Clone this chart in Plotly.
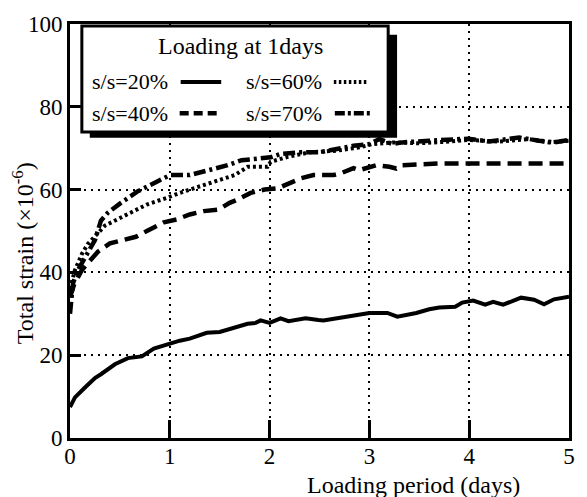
import plotly.graph_objects as go

# ---- data ----
x20 = [0, 0.05, 0.15, 0.25, 0.31, 0.45, 0.58, 0.72, 0.84, 1.0, 1.1, 1.2, 1.37, 1.5, 1.63, 1.78, 1.86, 1.91, 2.0,
       2.11, 2.19, 2.36, 2.49, 2.54, 2.8, 3.0, 3.18, 3.28, 3.47, 3.6, 3.7, 3.86, 3.93, 4.04, 4.16, 4.24, 4.34,
       4.52, 4.65, 4.75, 4.85, 5.0]
y20 = [7.5, 9.8, 12.2, 14.5, 15.4, 17.8, 19.3, 19.7, 21.6, 22.8, 23.5, 24.0, 25.4, 25.6, 26.5, 27.6, 27.8, 28.4, 27.8,
       28.9, 28.2, 28.9, 28.5, 28.4, 29.4, 30.2, 30.2, 29.3, 30.2, 31.1, 31.5, 31.7, 32.7, 33.2, 32.2, 32.9, 32.2,
       33.9, 33.4, 32.3, 33.5, 34.1]

x40 = [0, 0.04, 0.12, 0.28, 0.4, 0.51, 0.66, 0.77, 0.94, 1.07, 1.2, 1.34, 1.49, 1.6, 1.68, 1.81, 1.95, 2.08, 2.21,
       2.31, 2.44, 2.64, 2.71, 2.84, 2.9, 3.07, 3.2, 3.27, 3.33, 3.43, 3.7, 4.0, 4.26, 4.6, 5.0]
y40 = [34, 37, 40.6, 45, 47, 47.7, 48.6, 50, 52.1, 52.8, 54, 54.8, 55.2, 56.8, 57.6, 59.2, 60, 60.3, 61.5,
       62.7, 63.5, 63.5, 63.9, 65.2, 64.7, 65.9, 65.5, 65.1, 65.9, 66, 66.3, 66.3, 66.3, 66.3, 66.3]

x60 = [0, 0.05, 0.12, 0.18, 0.35, 0.54, 0.77, 0.97, 1.1, 1.34, 1.5, 1.65, 1.78, 1.98, 2.01, 2.18, 2.4, 2.67, 2.9,
       3.03, 3.23, 3.5, 3.8, 4.0, 4.3, 4.6, 4.8, 5.0]
y60 = [36, 40.6, 44.5, 46.9, 51.3, 53.6, 56.4, 58, 59.2, 61.1, 62.3, 63.5, 65.5, 65.5, 66.7, 67.9, 69, 69.4, 70.2,
       71, 71.4, 71.2, 71.6, 72, 71.6, 72.2, 71.4, 71.8]

x70 = [0, 0.03, 0.08, 0.25, 0.31, 0.38, 0.51, 0.68, 0.87, 1.0, 1.2, 1.47, 1.58, 1.72, 1.88, 2.01, 2.11, 2.31, 2.5,
       2.67, 2.84, 3.0, 3.1, 3.23, 3.33, 3.6, 3.8, 3.99, 4.2, 4.5, 4.7, 4.85, 5.0]
y70 = [30, 37.4, 40.6, 47.8, 52.5, 54.4, 56.8, 59.6, 61.9, 63.5, 63.5, 65.1, 65.9, 67.1, 67.5, 67.8, 68.6, 69, 69,
       69.8, 70.6, 71, 72.2, 71, 71.4, 71.8, 72.0, 72.3, 71.6, 72.6, 71.8, 71.4, 72.0]

series_names = ["s/s=20%", "s/s=40%", "s/s=60%", "s/s=70%"]
legend_title = "Loading at 1days"
x_ticks = [0, 1, 2, 3, 4, 5]
y_ticks = [0, 20, 40, 60, 80, 100]

FONT = "Liberation Serif, Times New Roman, Times, serif"
dashes = ["solid", "14px,7px", "3px,3px", "12px,4px,3px,4px"]
widths = [4, 4.5, 4, 4.5]

fig = go.Figure()
for xs, ys, name, d, w in zip([x20, x40, x60, x70], [y20, y40, y60, y70], series_names, dashes, widths):
    fig.add_trace(go.Scatter(x=xs, y=ys, mode="lines", name=name,
                             line=dict(color="black", width=w, dash=d), showlegend=False))

# pixel -> paper helpers (plot area: x 70..575, y 16..438)
def px(x):
    return (x - 70) / 505.0

def py(y):
    return (438 - y) / 422.0

shapes = []
# legend shadow + box
shapes.append(dict(type="rect", xref="paper", yref="paper", x0=px(90), x1=px(401), y0=py(132), y1=py(27),
                   fillcolor="black", line=dict(width=0), layer="above"))
shapes.append(dict(type="rect", xref="paper", yref="paper", x0=px(82), x1=px(392), y0=py(126), y1=py(18),
                   fillcolor="white", line=dict(color="black", width=3), layer="above"))
# legend samples
samples = [((182, 223), 75, "solid", 4), ((181, 222), 107, "9px,5px", 4.5),
           ((337, 372), 75, "2.5px,2.5px", 4), ((338, 375), 107, "10px,3px,3px,3px", 4.5)]
for (a, b), yy, d, w in samples:
    shapes.append(dict(type="line", xref="paper", yref="paper", x0=px(a), x1=px(b), y0=py(yy), y1=py(yy),
                       line=dict(color="black", width=w, dash=d), layer="above"))

annotations = [
    dict(text=legend_title, x=px(243), y=py(38), xref="paper", yref="paper", showarrow=False,
         font=dict(family=FONT, size=24, color="black"), xanchor="center", yanchor="middle"),
    dict(text=series_names[0], x=px(171), y=py(75), xref="paper", yref="paper", showarrow=False,
         font=dict(family=FONT, size=22, color="black"), xanchor="right", yanchor="middle"),
    dict(text=series_names[1], x=px(171), y=py(107), xref="paper", yref="paper", showarrow=False,
         font=dict(family=FONT, size=22, color="black"), xanchor="right", yanchor="middle"),
    dict(text=series_names[2], x=px(327), y=py(75), xref="paper", yref="paper", showarrow=False,
         font=dict(family=FONT, size=22, color="black"), xanchor="right", yanchor="middle"),
    dict(text=series_names[3], x=px(327), y=py(107), xref="paper", yref="paper", showarrow=False,
         font=dict(family=FONT, size=22, color="black"), xanchor="right", yanchor="middle"),
    dict(text="Loading period (days)", x=px(418), y=py(486), xref="paper", yref="paper", showarrow=False,
         font=dict(family=FONT, size=24, color="black"), xanchor="center", yanchor="middle"),
    dict(text="Total strain (×10<sup>-6</sup>)", x=px(22), y=py(250), xref="paper", yref="paper",
         showarrow=False, textangle=-90,
         font=dict(family=FONT, size=24, color="black"), xanchor="center", yanchor="middle"),
]

fig.update_layout(
    width=587, height=497,
    margin=dict(l=70, r=12, t=16, b=59),
    paper_bgcolor="white", plot_bgcolor="white",
    font=dict(family=FONT, color="black"),
    shapes=shapes, annotations=annotations,
    showlegend=False,
)
fig.update_xaxes(range=[0, 5], tickvals=x_ticks, ticktext=[str(v) for v in x_ticks],
                 showline=True, linecolor="black", linewidth=3, mirror=True,
                 ticks="inside", ticklen=18, tickwidth=3, tickcolor="black",
                 showgrid=True, gridcolor="black", gridwidth=2, griddash="2px,5px",
                 zeroline=False, ticklabelstandoff=-5, tickfont=dict(family=FONT, size=23, color="black"))
fig.update_yaxes(range=[0, 100], tickvals=y_ticks, ticktext=[str(v) for v in y_ticks],
                 showline=True, linecolor="black", linewidth=3, mirror=True,
                 ticks="inside", ticklen=11, tickwidth=3, tickcolor="black",
                 showgrid=True, gridcolor="black", gridwidth=2, griddash="2px,5px",
                 zeroline=False, ticklabelstandoff=0, tickfont=dict(family=FONT, size=23, color="black"))

fig.write_html("out.html")
